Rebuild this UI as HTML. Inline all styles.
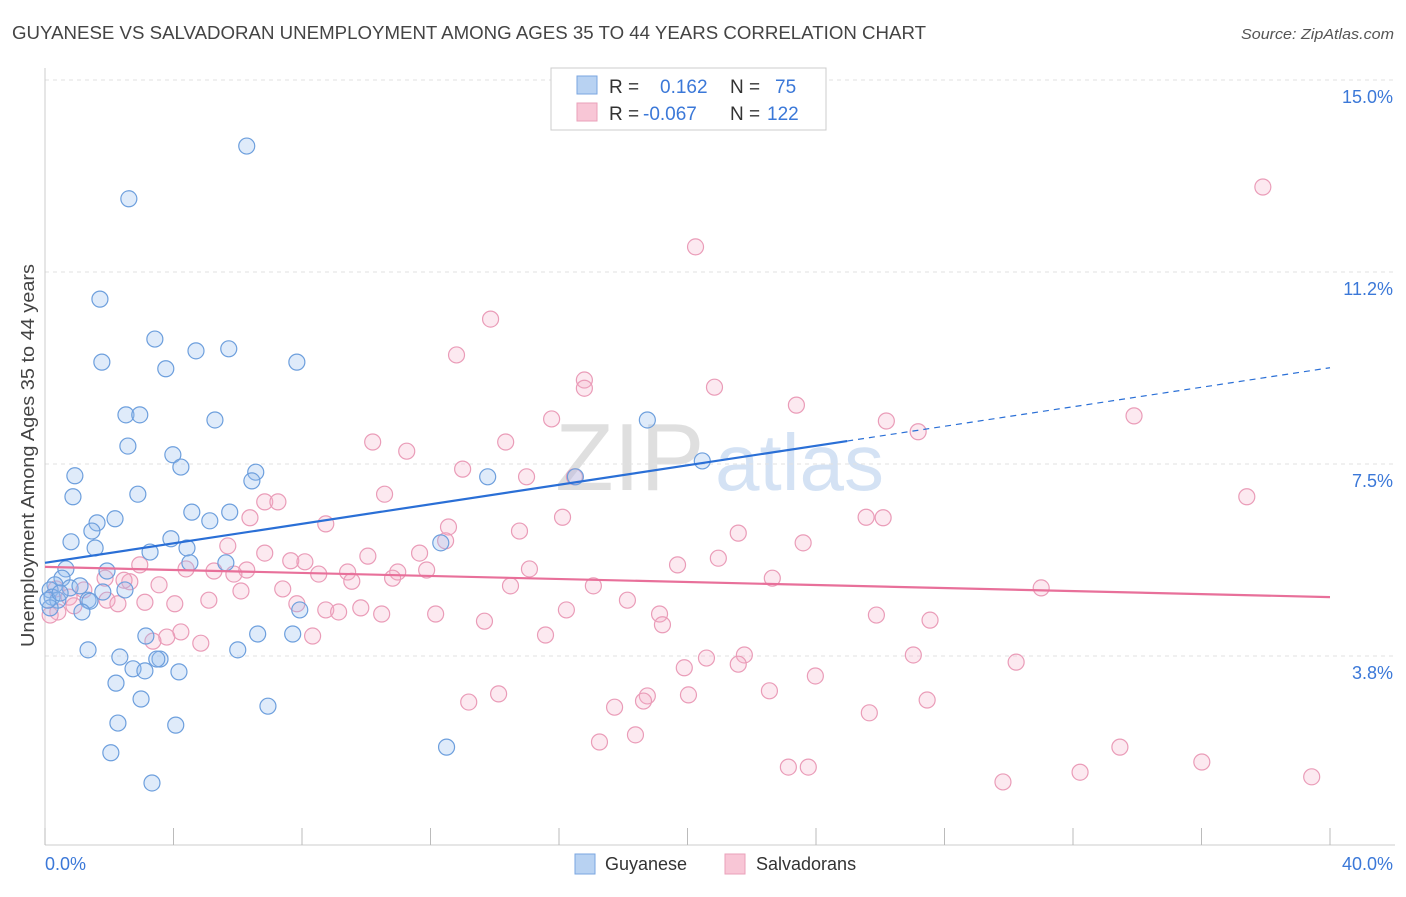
<!DOCTYPE html>
<html><head><meta charset="utf-8"><style>
body{margin:0;background:#fff;font-family:"Liberation Sans",sans-serif;}
svg text{font-family:"Liberation Sans",sans-serif;}
</style></head><body>
<svg id="chart" width="1406" height="892" xmlns="http://www.w3.org/2000/svg">
<text x="12" y="39" font-size="18" fill="#444" textLength="914" lengthAdjust="spacingAndGlyphs">GUYANESE VS SALVADORAN UNEMPLOYMENT AMONG AGES 35 TO 44 YEARS CORRELATION CHART</text>
<text x="1241" y="39" font-size="15" fill="#555" font-style="italic" textLength="153" lengthAdjust="spacingAndGlyphs">Source: ZipAtlas.com</text>
<g>
<text x="555" y="490" font-size="96" fill="#d8d8d8" font-family="Liberation Serif" opacity="0.8">ZIP</text>
<text x="715" y="490" font-size="80" fill="#b8d0ee" opacity="0.6">atlas</text>
</g>
<g id="grid"></g>
<g id="axes"></g>
<g id="marks"></g>
<g id="trends"></g>
<text transform="translate(34,456) rotate(-90)" x="-191" y="0" font-size="18" fill="#444" textLength="383" lengthAdjust="spacingAndGlyphs">Unemployment Among Ages 35 to 44 years</text>
<g>
<rect x="551" y="68" width="275" height="62" fill="#fff" stroke="#ccc"/>
<rect x="577" y="76" width="20" height="18" fill="#b8d2f2" stroke="#7aa6e0"/>
<rect x="577" y="103" width="20" height="18" fill="#f8c6d6" stroke="#eaa0ba"/>
<text x="609" y="93" font-size="19" fill="#333">R =</text>
<text x="660" y="93" font-size="19" fill="#3b78d8">0.162</text>
<text x="730" y="93" font-size="19" fill="#333">N =</text>
<text x="775" y="93" font-size="19" fill="#3b78d8">75</text>
<text x="609" y="120" font-size="19" fill="#333">R =</text>
<text x="643" y="120" font-size="19" fill="#3b78d8">-0.067</text>
<text x="730" y="120" font-size="19" fill="#333">N =</text>
<text x="767" y="120" font-size="19" fill="#3b78d8">122</text>
</g>
<g>
<rect x="575" y="854" width="20" height="20" fill="#b8d2f2" stroke="#7aa6e0"/>
<text x="605" y="870" font-size="18" fill="#333">Guyanese</text>
<rect x="725" y="854" width="20" height="20" fill="#f8c6d6" stroke="#eaa0ba"/>
<text x="756" y="870" font-size="18" fill="#333">Salvadorans</text>
</g>
</svg>
<script>
const yTicks=[15.0,11.25,7.5,3.75];
const yTickLabels=["15.0%","11.2%","7.5%","3.8%"];
const xTicks=[0,4,8,12,16,20,24,28,32,36,40];
const xTickLabels=["0.0%","40.0%"];
const guyX=[6.28,2.61,1.71,3.42,4.70,5.72,1.77,3.76,7.84,2.52,2.95,5.29,18.75,2.58,3.98,4.23,6.56,0.93,6.44,13.78,20.46,16.51,2.89,0.87,4.57,5.75,2.18,5.13,1.62,1.46,0.81,3.92,1.56,3.27,4.42,12.32,5.63,4.51,0.65,1.93,0.53,0.31,0.16,0.78,1.09,0.22,0.40,1.34,2.49,1.80,1.40,0.16,1.15,3.14,6.62,7.71,7.93,1.34,2.33,6.00,3.58,3.48,2.74,3.11,4.17,2.21,2.99,6.94,2.27,4.07,2.05,12.50,3.33,0.09,0.47];
const guyY=[13.71,12.68,10.72,9.94,9.71,9.75,9.49,9.36,9.49,8.46,8.46,8.36,8.36,7.85,7.68,7.44,7.34,7.27,7.17,7.25,7.56,7.25,6.91,6.86,6.56,6.56,6.43,6.39,6.35,6.19,5.98,6.04,5.86,5.78,5.86,5.96,5.57,5.57,5.45,5.41,5.27,5.14,5.04,5.08,5.12,4.90,4.84,4.84,5.04,5.00,4.82,4.69,4.61,4.14,4.18,4.18,4.65,3.87,3.73,3.87,3.69,3.69,3.50,3.46,3.44,3.22,2.91,2.77,2.44,2.40,1.86,1.97,1.27,4.84,4.98];
const salX=[37.91,20.25,13.87,12.81,16.79,16.79,20.84,23.39,15.77,26.19,33.90,27.18,10.20,14.34,11.26,13.00,14.99,16.48,10.57,37.41,6.84,7.25,6.38,25.56,26.09,12.56,8.74,14.77,16.11,21.58,12.47,23.60,5.69,6.84,10.05,11.66,20.96,7.65,8.09,19.69,15.08,2.95,4.39,5.26,6.28,9.42,10.98,11.88,8.52,5.88,9.55,2.64,3.55,2.46,1.87,10.82,22.64,31.01,7.40,14.49,17.07,6.10,0.34,1.21,0.75,1.93,2.27,3.11,4.04,5.10,0.90,0.40,0.16,7.84,8.74,9.14,9.83,10.48,12.16,16.23,18.13,19.13,25.88,27.55,13.68,19.22,15.58,4.23,3.79,3.36,8.33,4.85,27.03,30.23,20.59,21.77,21.58,19.90,23.98,20.03,22.55,14.12,13.19,18.75,18.63,17.73,27.46,25.66,18.38,17.26,33.46,36.01,23.14,23.76,32.22,39.43,29.82];
const salY=[12.91,11.74,10.33,9.63,9.14,8.98,9.00,8.65,8.38,8.34,8.44,8.13,7.93,7.93,7.75,7.40,7.25,7.25,6.91,6.86,6.76,6.76,6.45,6.46,6.45,6.27,6.33,6.19,6.46,6.15,6.00,5.96,5.90,5.76,5.70,5.76,5.66,5.61,5.59,5.53,5.45,5.53,5.45,5.41,5.43,5.39,5.39,5.43,5.35,5.35,5.21,5.20,5.14,5.23,5.27,5.27,5.27,5.08,5.06,5.12,5.12,5.02,5.06,5.04,4.90,4.84,4.77,4.80,4.77,4.84,4.73,4.61,4.55,4.77,4.65,4.61,4.69,4.57,4.57,4.65,4.84,4.57,4.55,4.45,4.43,4.36,4.16,4.22,4.12,4.04,4.14,4.00,3.77,3.63,3.71,3.77,3.59,3.52,3.36,2.99,3.07,3.01,2.85,2.97,2.87,2.75,2.89,2.64,2.21,2.07,1.97,1.68,1.58,1.58,1.48,1.39,1.29];
const guyTrend=[5.57,9.38,24.97];
const salTrend=[5.49,4.90];

const NS="http://www.w3.org/2000/svg";
const X0=45,X1=1330,Y0=848,PY=51.2;
const xs=v=>X0+(v/40)*(X1-X0);
const ys=v=>Y0-v*PY;
function mk(tag,attrs,parent){const e=document.createElementNS(NS,tag);for(const k in attrs)e.setAttribute(k,attrs[k]);parent.appendChild(e);return e;}
const grid=document.getElementById('grid'),axes=document.getElementById('axes'),marks=document.getElementById('marks'),trends=document.getElementById('trends');
yTicks.forEach((t,i)=>{
  const l=mk('line',{x1:X0,x2:1395,y1:ys(t),y2:ys(t),stroke:'#e2e2e2','stroke-dasharray':'4,4'},grid);
  
  
  const tx=mk('text',{x:1393,y:ys(t)+23,'font-size':18,fill:'#3b78d8','text-anchor':'end'},axes);
  tx.textContent=yTickLabels[i];
  
  
});
const ya=mk('line',{x1:X0,x2:X0,y1:68,y2:845,stroke:'#ccc'},axes);


const xa=mk('line',{x1:X0,x2:1395,y1:845,y2:845,stroke:'#ccc'},axes);


xTicks.forEach(t=>{
  const l=mk('line',{x1:xs(t),x2:xs(t),y1:828,y2:845,stroke:'#bbb'},axes);
  
  
});
const xl0=mk('text',{x:X0,y:870,'font-size':18,fill:'#3b78d8','text-anchor':'start'},axes);
xl0.textContent=xTickLabels[0];


const xl1=mk('text',{x:1393,y:870,'font-size':18,fill:'#3b78d8','text-anchor':'end'},axes);
xl1.textContent=xTickLabels[1];



salX.forEach((v,i)=>{
  const c=mk('circle',{cx:xs(v),cy:ys(salY[i]),r:8,fill:'rgba(244,176,200,0.28)',stroke:'#ea9cb8','stroke-width':1.2},marks);
  
  
});
guyX.forEach((v,i)=>{
  const c=mk('circle',{cx:xs(v),cy:ys(guyY[i]),r:8,fill:'rgba(150,190,240,0.3)',stroke:'#6d9fdd','stroke-width':1.2},marks);
  
  
});
const gAt=x=>guyTrend[0]+(guyTrend[1]-guyTrend[0])*x/40;
const g1=mk('line',{x1:xs(0),y1:ys(gAt(0)),x2:xs(guyTrend[2]),y2:ys(gAt(guyTrend[2])),stroke:'#2a6fd6','stroke-width':2.2},trends);


const g2=mk('line',{x1:xs(guyTrend[2]),y1:ys(gAt(guyTrend[2])),x2:xs(40),y2:ys(gAt(40)),stroke:'#2a6fd6','stroke-width':1.2,'stroke-dasharray':'6,5'},trends);


const s1=mk('line',{x1:xs(0),y1:ys(salTrend[0]),x2:xs(40),y2:ys(salTrend[1]),stroke:'#e8709a','stroke-width':2.2},trends);


</script>
</body></html>
